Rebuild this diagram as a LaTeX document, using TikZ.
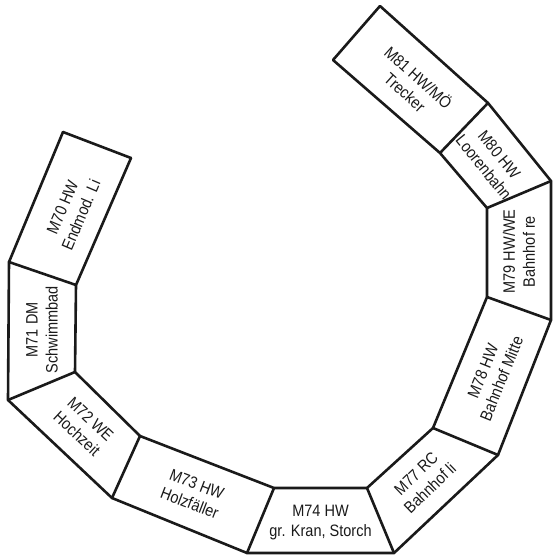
\documentclass[tikz,border=0pt]{standalone}
\usepackage{fontspec}
\setmainfont[FakeStretch=0.88]{Liberation Sans}
\usetikzlibrary{calc}
\definecolor{ink}{HTML}{1A1A1A}
\tikzset{
  edge/.style={draw=ink, line width=2.6pt, line join=round, line cap=round},
  lbl/.style={align=center, text=ink, inner sep=0pt, font=\fontsize{16.5}{20}\selectfont}
}
\begin{document}
\begin{tikzpicture}[x=1pt,y=-1pt]
\useasboundingbox (0,0) rectangle (552,556);
% outer vertices
\coordinate (o0) at (63,132);
\coordinate (o1) at (9,262);
\coordinate (o2) at (8,400);
\coordinate (o3) at (112,498);
\coordinate (o4) at (247,553);
\coordinate (o5) at (394,553);
\coordinate (o6) at (498,455);
\coordinate (o7) at (551,320);
\coordinate (o8) at (551,181);
\coordinate (o9) at (488,103);
\coordinate (o10) at (380,6);
% inner vertices
\coordinate (i0) at (131,158);
\coordinate (i1) at (76,285);
\coordinate (i2) at (75,372);
\coordinate (i3) at (140,436);
\coordinate (i4) at (274,488);
\coordinate (i5) at (367,488);
\coordinate (i6) at (433,428);
\coordinate (i7) at (487,297);
\coordinate (i8) at (487,208);
\coordinate (i9) at (440,153);
\coordinate (i10) at (333,60);
% outlines
\draw[edge] (o0)--(o1)--(o2)--(o3)--(o4)--(o5)--(o6)--(o7)--(o8)--(o9)--(o10);
\draw[edge] (i0)--(i1)--(i2)--(i3)--(i4)--(i5)--(i6)--(i7)--(i8)--(i9)--(i10);
\foreach \k in {0,...,10} { \draw[edge] (o\k)--(i\k); }
% labels
\node[lbl, rotate=67] (m70) at ($(barycentric cs:o0=1,i0=1,i1=1,o1=1)+(2,2)$) {M70 HW\\Endmod. Li};
\node[lbl, rotate=90] (m71) at (barycentric cs:o1=1,i1=1,i2=1,o2=1) {M71 DM\\Schwimmbad};
\node[lbl, rotate=-43] (m72) at (barycentric cs:o2=1,i2=1,i3=1,o3=1) {M72 WE\\Hochzeit};
\node[lbl, rotate=-21] (m73) at (barycentric cs:o3=1,i3=1,i4=1,o4=1) {M73 HW\\Holzfäller};
\node[lbl] (m74) at ($(barycentric cs:o4=1,i4=1,i5=1,o5=1)+(0,2)$) {M74 HW\\gr. Kran, Storch};
\node[lbl, rotate=44] (m77) at (barycentric cs:o5=1,i5=1,i6=1,o6=1) {M77 RC\\Bahnhof li};
\node[lbl, rotate=68] (m78) at (barycentric cs:o6=1,i6=1,i7=1,o7=1) {M78 HW\\Bahnhof Mitte};
\node[lbl, rotate=90] (m79) at (barycentric cs:o7=1,i7=1,i8=1,o8=1) {M79 HW/WE\\Bahnhof re};
\node[lbl, rotate=-51] (m80) at (barycentric cs:o8=1,i8=1,i9=1,o9=1) {M80 HW\\Loorenbahn};
\node[lbl, rotate=-42] (m81) at ($(barycentric cs:o9=1,i9=1,i10=1,o10=1)+(2,4)$) {M81 HW/MÖ\\Trecker};
\end{tikzpicture}
\end{document}
